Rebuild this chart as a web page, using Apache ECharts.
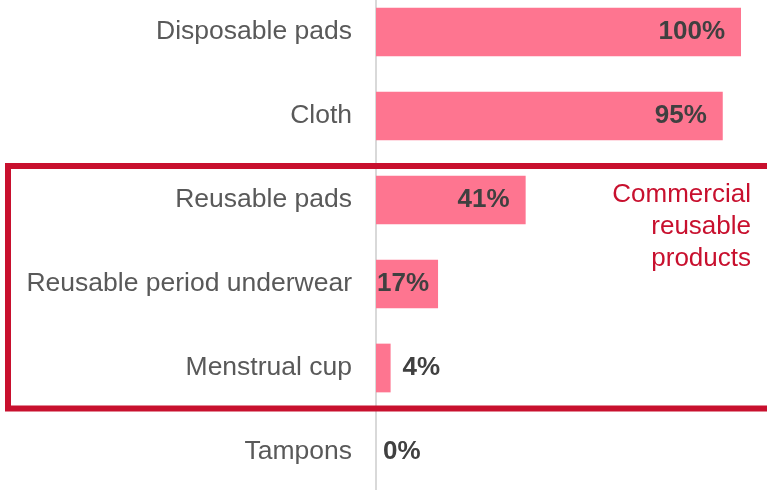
<!DOCTYPE html>
<html>
<head>
<meta charset="utf-8">
<script src="https://cdn.jsdelivr.net/npm/echarts@6/dist/echarts.min.js"></script>
<style>
  html, body { margin: 0; padding: 0; background: #ffffff; overflow: hidden; }
  #wrap { width: 767px; height: 490px; overflow: hidden; position: relative; }
  /* the plot runs a little past the top and bottom edges */
  #chart { width: 767px; height: 504px; position: absolute; left: 0; top: -10px; }
</style>
</head>
<body>
<div id="wrap"><div id="chart"></div></div>
<script>
// Share of respondents who have used each product
const categories = [
  'Disposable pads',
  'Cloth',
  'Reusable pads',
  'Reusable period underwear',
  'Menstrual cup',
  'Tampons'
];
const shares = [100, 95, 41, 17, 4, 0];

const FONT = '"Liberation Sans", Arial, sans-serif';
const BAR_COLOR = '#FE7590';
const VALUE_COLOR = '#404040';
const ACCENT = '#C8102E';

// Long bars carry their label inside the end; short ones put it after the bar.
function labelFor(v) {
  if (v >= 30) return { position: 'insideRight', distance: 16 };
  if (v >= 10) return { position: 'insideLeft', distance: 1 };
  return { position: 'right', distance: v > 0 ? 12 : 7 };
}

const barData = shares.map(v => ({ value: v, label: labelFor(v) }));

const chart = echarts.init(document.getElementById('chart'), null, { renderer: 'canvas' });

chart.setOption({
  animation: false,
  backgroundColor: '#ffffff',
  grid: { left: 376, right: 26, top: 0, bottom: 0, containLabel: false },
  xAxis: {
    type: 'value',
    min: 0,
    max: 100,
    show: false
  },
  yAxis: {
    type: 'category',
    data: categories,
    inverse: true,
    axisLine: { show: true, lineStyle: { color: '#d9d9d9', width: 2 } },
    axisTick: { show: false },
    splitLine: { show: false },
    axisLabel: {
      color: '#595959',
      fontSize: 26.5,
      fontFamily: FONT,
      margin: 24
    }
  },
  series: [{
    type: 'bar',
    data: barData,
    barCategoryGap: '42%',
    itemStyle: { color: BAR_COLOR },
    label: {
      show: true,
      formatter: '{c}%',
      color: VALUE_COLOR,
      fontSize: 26,
      fontWeight: 'bold',
      fontFamily: FONT
    }
  }],
  graphic: [
    {
      type: 'rect',
      shape: { x: 8, y: 176, width: 800, height: 242.5 },
      style: { fill: 'none', stroke: ACCENT, lineWidth: 6 },
      z: 10
    },
    {
      type: 'text',
      x: 751,
      y: 189,
      style: {
        text: 'Commercial\nreusable\nproducts',
        fill: ACCENT,
        font: '26px ' + FONT,
        textAlign: 'right',
        textVerticalAlign: 'top',
        lineHeight: 32
      },
      z: 10
    }
  ]
});
</script>
</body>
</html>
